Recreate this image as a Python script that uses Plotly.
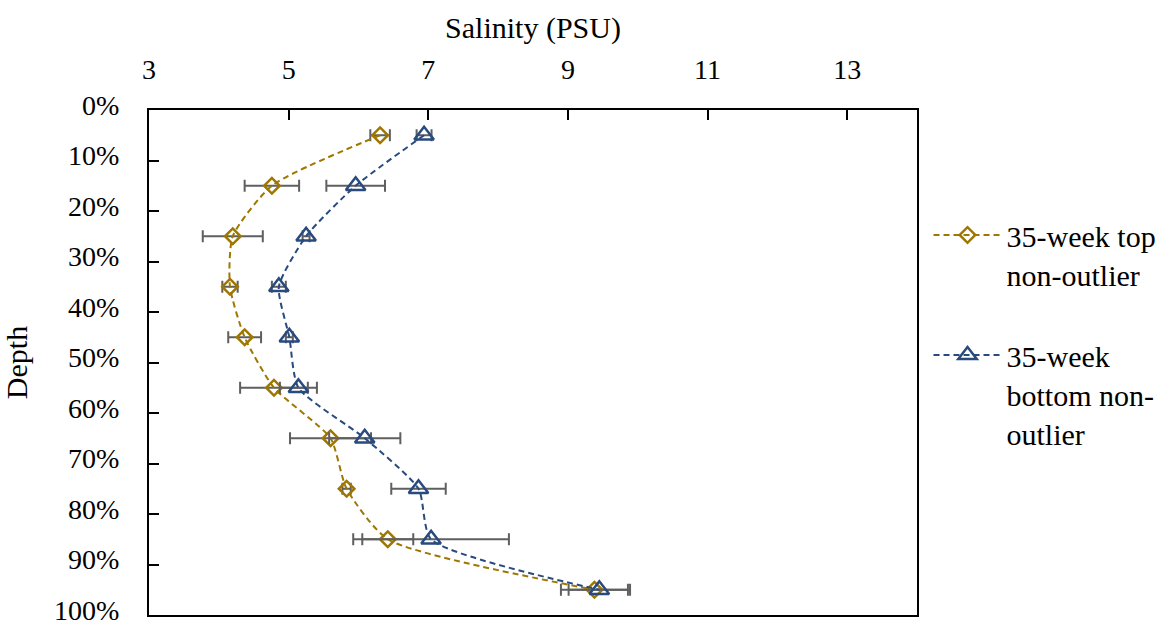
import plotly.graph_objects as go

depth = [0.05, 0.15, 0.25, 0.35, 0.45, 0.55, 0.65, 0.75, 0.85, 0.95]

top_salinity = [6.31, 4.76, 4.20, 4.16, 4.37, 4.79, 5.60, 5.83, 6.42, 9.38]
top_err = [0.14, 0.39, 0.43, 0.11, 0.235, 0.485, 0.58, 0.06, 0.365, 0.48]

bottom_salinity = [6.94, 5.96, 5.25, 4.86, 5.01, 5.14, 6.09, 6.86, 7.04, 9.45]
bottom_err = [0.107, 0.42, 0.05, 0.10, 0.05, 0.265, 0.51, 0.39, 1.115, 0.44]

top_name = "35-week top<br>non-outlier"
bottom_name = "35-week<br>bottom non-<br>outlier"

x_ticks = [3, 5, 7, 9, 11, 13]
y_ticks = [0, 0.1, 0.2, 0.3, 0.4, 0.5, 0.6, 0.7, 0.8, 0.9, 1.0]
y_tick_labels = ["0%", "10%", "20%", "30%", "40%", "50%", "60%", "70%", "80%", "90%", "100%"]

GOLD = "#9E7700"
BLUE = "#284A7E"
ERR = "#5F5F5F"
FONT = "Liberation Serif"

fig = go.Figure()

fig.add_trace(go.Scatter(
    x=top_salinity, y=depth, name=top_name, mode="lines+markers",
    line=dict(color=GOLD, width=2, dash="6px,4px", shape="spline", smoothing=0.6),
    marker=dict(symbol="diamond-open", size=12, color=GOLD, line=dict(width=2.5, color=GOLD)),
    error_x=dict(type="data", array=top_err, visible=True, color=ERR, thickness=2, width=6),
    legendgroup="a",
))
fig.add_trace(go.Scatter(
    x=bottom_salinity, y=depth, name=bottom_name, mode="lines+markers",
    line=dict(color=BLUE, width=2, dash="6px,4px", shape="spline", smoothing=0.6),
    marker=dict(symbol="triangle-up-open", size=17, color=BLUE, line=dict(width=2.5, color=BLUE)),
    error_x=dict(type="data", array=bottom_err, visible=True, color=ERR, thickness=2, width=6),
    legendgroup="b",
))

fig.update_layout(
    width=1174, height=628,
    margin=dict(l=149, r=253, t=110, b=13),
    paper_bgcolor="white", plot_bgcolor="white",
    font=dict(family=FONT, size=28, color="black"),
    showlegend=True,
    legend=dict(
        x=1.015, y=0.804, xanchor="left", yanchor="top",
        font=dict(family=FONT, size=30, color="black"),
        valign="top", tracegroupgap=39, itemwidth=68,
        bgcolor="rgba(0,0,0,0)",
    ),
    xaxis=dict(
        side="top", range=[3, 14], tickmode="array", tickvals=x_ticks,
        ticktext=[str(v) for v in x_ticks],
        ticks="inside", ticklen=10, tickwidth=2, tickcolor="black",
        showline=True, linecolor="black", linewidth=2, mirror=True,
        showgrid=False, zeroline=False, automargin=False,
        ticklabelstandoff=18,
        title=dict(text="Salinity (PSU)", font=dict(family=FONT, size=30), standoff=6),
        tickfont=dict(family=FONT, size=28),
    ),
    yaxis=dict(
        range=[1, 0], tickmode="array", tickvals=y_ticks, ticktext=y_tick_labels,
        ticks="inside", ticklen=10, tickwidth=2, tickcolor="black",
        showline=True, linecolor="black", linewidth=2, mirror=True,
        showgrid=False, zeroline=False, automargin=False,
        title=dict(text="Depth", font=dict(family=FONT, size=30), standoff=22),
        tickfont=dict(family=FONT, size=28),
        ticklabelstandoff=22,
        ticklabelshift=5,
        ticklabeloverflow="allow",
    ),
)

fig.write_html("out.html")
